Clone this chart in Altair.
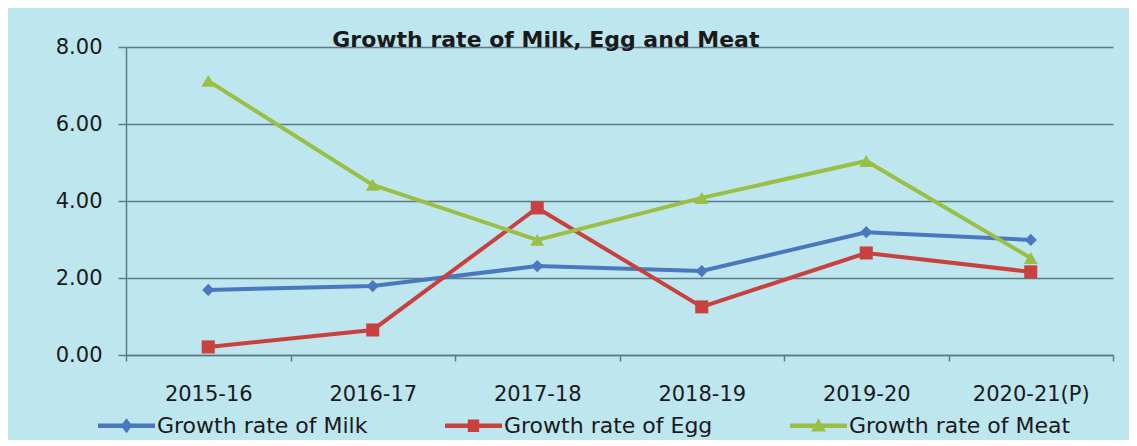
import altair as alt
import pandas as pd

years = ["2015-16", "2016-17", "2017-18", "2018-19", "2019-20", "2020-21(P)"]
milk = [1.69, 1.79, 2.31, 2.18, 3.19, 2.99]
egg = [0.21, 0.65, 3.82, 1.25, 2.65, 2.16]
meat = [7.12, 4.42, 2.99, 4.08, 5.04, 2.52]
series_names = ["Growth rate of Milk", "Growth rate of Egg", "Growth rate of Meat"]
colors = ["#4A78BF", "#C8413F", "#9BBE45"]
y_ticks = [0, 2, 4, 6, 8]

rows = []
for name, vals in zip(series_names, [milk, egg, meat]):
    for yr, v in zip(years, vals):
        rows.append({"year": yr, "value": v, "series": name, "mk": name, "lg": name})
df = pd.DataFrame(rows)

FONT = "DejaVu Sans"
TXT = "#1a1a1a"
GRID = "#5E7B85"
cscale = alt.Scale(domain=series_names, range=colors)

x = alt.X("year:N", sort=years, title=None,
          scale=alt.Scale(paddingInner=0, paddingOuter=0),
          axis=alt.Axis(labelAngle=0, tickBand="extent", grid=False, tickSize=6,
                        labelPadding=22, labelFontSize=21, labelFont=FONT,
                        labelColor=TXT, domainColor=GRID, tickColor=GRID,
                        domainWidth=1.5, tickWidth=1.5))
y = alt.Y("value:Q", title=None, scale=alt.Scale(domain=[0, 8], nice=False),
          axis=alt.Axis(values=y_ticks, format=".2f", tickSize=8, labelPadding=16,
                        labelFontSize=21, labelFont=FONT, labelColor=TXT,
                        gridColor=GRID, gridWidth=1.5, domainColor=GRID,
                        tickColor=GRID, domainWidth=1.5, tickWidth=1.5))

lines = alt.Chart(df).mark_line(strokeWidth=4).encode(
    x=x, y=y, color=alt.Color("series:N", scale=cscale, legend=None), detail="series:N")

points = alt.Chart(df).mark_point(filled=True, opacity=1).encode(
    x=x, y=y,
    color=alt.Color("series:N", scale=cscale, legend=None),
    shape=alt.Shape("mk:N", scale=alt.Scale(domain=series_names,
                                            range=["diamond", "square", "triangle-up"]),
                    legend=None),
    size=alt.Size("mk:N", scale=alt.Scale(domain=series_names, range=[150, 190, 170]),
                  legend=None))

bar = "M-1,-0.075H1V0.075H-1Z "
paths = [bar + "M0,-0.26L0.2,0L0,0.26L-0.2,0Z",
         bar + "M-0.2,-0.22H0.2V0.22H-0.2Z",
         bar + "M0,-0.26L0.26,0.2H-0.26Z"]

leg = dict(title=None, orient="none", direction="horizontal",
           legendX=-28, legendY=350, symbolSize=3249,
           symbolStrokeWidth=0, labelOffset=2, columnPadding=77,
           labelFontSize=22, labelFont=FONT, labelColor=TXT, labelLimit=500,
           padding=0, symbolOpacity=1)

dummy = alt.Chart(df).transform_filter("datum.value < -100").mark_point(
    filled=True, opacity=1).encode(
    x=x, y=y,
    color=alt.Color("lg:N", scale=alt.Scale(domain=series_names, range=colors),
                    legend=alt.Legend(**leg)),
    shape=alt.Shape("lg:N", scale=alt.Scale(domain=series_names, range=paths),
                    legend=alt.Legend(**leg)))

chart = alt.layer(lines, points, dummy).resolve_scale(
    color="independent", shape="independent", size="independent").properties(
    width=987, height=308,
    title=alt.Title("Growth rate of Milk, Egg and Meat", anchor="start", dx=277, offset=-16,
                    fontSize=22, font=FONT, fontWeight="bold", color=TXT),
    autosize=alt.AutoSizeParams(type="none"),
    padding={"left": 118, "top": 39, "right": 16, "bottom": 85},
    background="#BDE6EF",
).configure_view(stroke=None)

chart.save("out.html", embed_options={"renderer": "svg", "actions": False})
